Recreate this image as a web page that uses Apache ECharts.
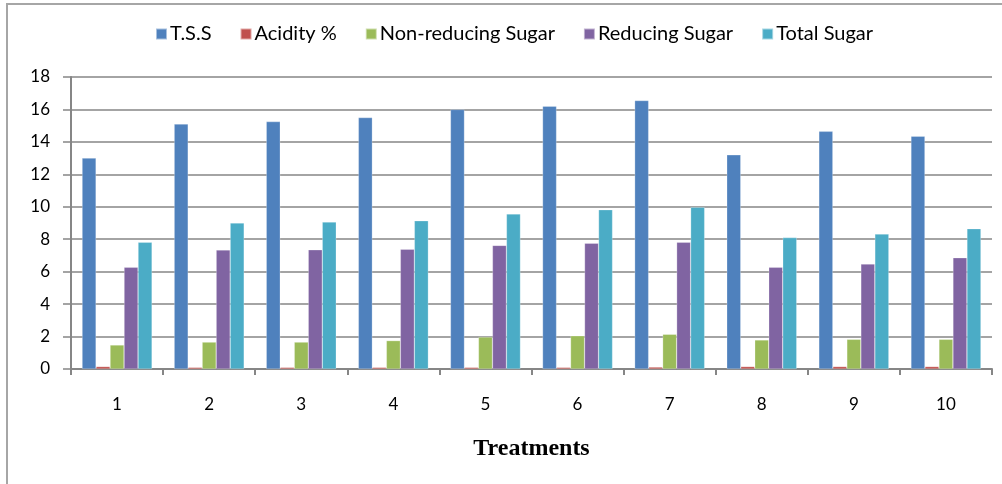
<!DOCTYPE html>
<html><head><meta charset="utf-8">
<script src="https://cdn.jsdelivr.net/npm/echarts@6/dist/echarts.min.js"></script>
<style>html,body{margin:0;padding:0;background:#fff}#c{width:1002px;height:484px;position:relative}
#frame{position:absolute;left:6px;top:3px;width:1100px;height:600px;border:2px solid #a6a6a6;border-right:none;border-bottom:none;box-sizing:border-box;pointer-events:none}</style>
</head><body>
<div id="c"></div>
<div id="frame"></div>
<script>
const categories = ['1','2','3','4','5','6','7','8','9','10'];
const tss = [13.0, 15.1, 15.25, 15.5, 16.0, 16.2, 16.55, 13.2, 14.65, 14.35];
const acidity = [0.15, 0.1, 0.1, 0.1, 0.1, 0.1, 0.12, 0.15, 0.15, 0.15];
const nonReducing = [1.48, 1.66, 1.66, 1.75, 1.97, 2.05, 2.14, 1.79, 1.83, 1.83];
const reducing = [6.27, 7.34, 7.35, 7.38, 7.62, 7.75, 7.81, 6.27, 6.47, 6.86];
const totalSugar = [7.81, 9.0, 9.06, 9.14, 9.56, 9.82, 9.97, 8.10, 8.32, 8.65];
const yTicks = [0, 2, 4, 6, 8, 10, 12, 14, 16, 18];

const names = ['T.S.S', 'Acidity %', 'Non-reducing Sugar', 'Reducing Sugar', 'Total Sugar'];
const colors = ['#4F81BD', '#C0504D', '#9BBB59', '#8064A2', '#4BACC6'];
const datas = [tss, acidity, nonReducing, reducing, totalSugar];
const font = 'Lato';

const chart = echarts.init(document.getElementById('c'));
chart.setOption({
  animation: false,
  color: colors,
  legend: {
    top: 19, left: 150,
    itemWidth: 11, itemHeight: 11, itemGap: 28,
    icon: 'rect',
    textStyle: { fontFamily: font, fontSize: 20, color: '#000', padding: [0,0,0,-2] },
    data: names
  },
  grid: { left: 71, right: 10, top: 77, bottom: 115 },
  xAxis: {
    type: 'category', data: categories,
    axisLine: { lineStyle: { color: '#868686', width: 2 } },
    axisTick: { show: true, length: 6, interval: 0, lineStyle: { color: '#868686', width: 2 } },
    axisLabel: { fontFamily: font, fontSize: 17, color: '#000', margin: 27 },
    name: 'Treatments', nameLocation: 'middle', nameGap: 68,
    nameTextStyle: { fontFamily: 'Liberation Serif', fontWeight: 'bold', fontSize: 24, color: '#000' }
  },
  yAxis: {
    type: 'value', min: 0, max: 18, interval: 2,
    axisLine: { show: true, lineStyle: { color: '#868686', width: 2 } },
    axisTick: { show: true, length: 8, lineStyle: { color: '#868686', width: 1.5 } },
    axisLabel: { fontFamily: font, fontSize: 17, color: '#000', margin: 21,
      formatter: v => yTicks.includes(v) ? String(v) : '' },
    splitLine: { lineStyle: { color: '#868686', width: 1.5 } }
  },
  series: datas.map((d, i) => ({
    name: names[i], type: 'bar', data: d,
    barGap: '0%', barCategoryGap: '24%',
    itemStyle: { color: colors[i], borderColor: 'rgba(255,255,255,0.5)', borderWidth: 0.5 }
  }))
});
</script>
</body></html>
